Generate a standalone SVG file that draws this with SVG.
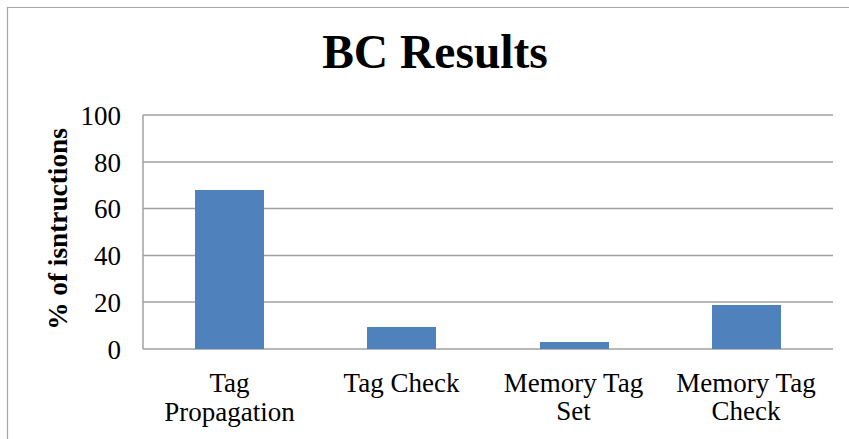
<svg xmlns="http://www.w3.org/2000/svg" width="849" height="439" viewBox="0 0 849 439">
<style>
.t{font-family:"Liberation Serif","Times New Roman",serif;fill:#000}
.tick{font-size:27px;text-anchor:end}
.cat{font-size:27px;text-anchor:middle}
.grid{stroke:#a0a0a0;stroke-width:1.5;fill:none}
.bar{fill:#4f81bd}
</style>
<rect x="0" y="0" width="849" height="439" fill="#ffffff"/>
<path d="M7.5,439 V7.5 H849" stroke="#a6a6a6" stroke-width="1.2" fill="none"/>
<text class="t" x="435" y="68" font-size="47.5" font-weight="bold" text-anchor="middle">BC Results</text>
<g id="gridlines">
<line class="grid" x1="143" y1="115" x2="833" y2="115"/>
<line class="grid" x1="143" y1="162" x2="833" y2="162"/>
<line class="grid" x1="143" y1="208.5" x2="833" y2="208.5"/>
<line class="grid" x1="143" y1="255.5" x2="833" y2="255.5"/>
<line class="grid" x1="143" y1="302" x2="833" y2="302"/>
<line class="grid" x1="143" y1="349" x2="833" y2="349"/>
<line class="grid" x1="143" y1="115" x2="143" y2="349"/>
</g>
<g id="yticks">
<text class="t tick" x="121" y="124.5">100</text>
<text class="t tick" x="121" y="171.5">80</text>
<text class="t tick" x="121" y="218">60</text>
<text class="t tick" x="121" y="265">40</text>
<text class="t tick" x="121" y="311.5">20</text>
<text class="t tick" x="121" y="358.5">0</text>
</g>
<text class="t" transform="translate(67,229) rotate(-90)" font-size="27.3" font-weight="bold" text-anchor="middle">% of isntructions</text>
<g id="bar-tag-propagation">
<rect class="bar" x="195" y="190" width="69" height="159"/>
<text class="t cat" x="229.5" y="392">Tag</text>
<text class="t cat" x="229.5" y="421">Propagation</text>
</g>
<g id="bar-tag-check">
<rect class="bar" x="367" y="327" width="69" height="22"/>
<text class="t cat" x="401.5" y="392">Tag Check</text>
</g>
<g id="bar-memory-tag-set">
<rect class="bar" x="540" y="342" width="69" height="7"/>
<text class="t cat" x="573.5" y="392">Memory Tag</text>
<text class="t cat" x="573.5" y="420">Set</text>
</g>
<g id="bar-memory-tag-check">
<rect class="bar" x="712" y="305" width="69" height="44"/>
<text class="t cat" x="746" y="392">Memory Tag</text>
<text class="t cat" x="746" y="420">Check</text>
</g>
</svg>
